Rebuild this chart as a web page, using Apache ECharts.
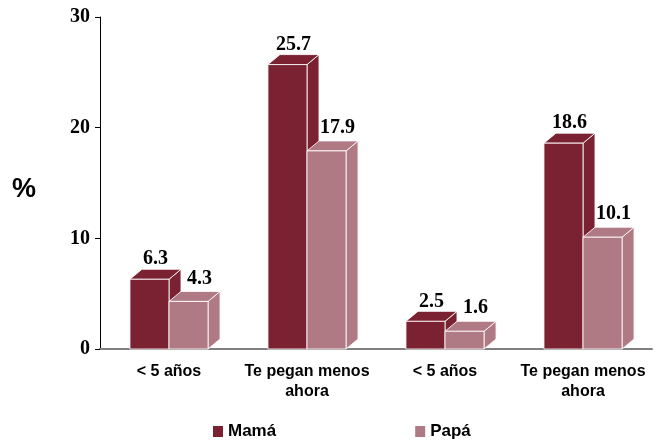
<!DOCTYPE html>
<html>
<head>
<meta charset="utf-8">
<script src="https://cdn.jsdelivr.net/npm/echarts@6/dist/echarts.min.js"></script>
<style>
  html, body { margin: 0; padding: 0; background: #fff; }
  #chart { width: 660px; height: 441px; }
</style>
</head>
<body>
<div id="chart"></div>
<script>
// categorías del eje x
var categorias = ['< 5 años', 'Te pegan menos\nahora', '< 5 años', 'Te pegan menos\nahora'];
// valores (%)
var mama = [6.3, 25.7, 2.5, 18.6];
var papa = [4.3, 17.9, 1.6, 10.1];
var yTicks = [0, 10, 20, 30];

var colorMama = '#7b2232';
var colorPapa = '#b07a84';

// profundidad del efecto 3D
var DX = 12, DY = 10;

// dibuja una barra "3D": frente, tapa y lateral + etiqueta
function barra3D(offsetSide, color, labelDx, labelDy) {
    return function (params, api) {
        var idx = api.value(0);
        var val = api.value(1);
        var top = api.coord([idx, val]);
        var base = api.coord([idx, 0]);
        var catW = api.size([1, 0])[0];
        var w = catW * 0.283;
        var x0 = offsetSide < 0 ? top[0] - w : top[0];
        var x1 = x0 + w;
        var y = top[1], yb = base[1];
        var borde = { stroke: 'rgba(255,255,255,0.85)', lineWidth: 1 };
        return {
            type: 'group',
            children: [
                {
                    type: 'polygon',
                    shape: { points: [[x1, y], [x1 + DX, y - DY], [x1 + DX, yb - DY], [x1, yb]] },
                    style: Object.assign({ fill: color }, borde)
                },
                {
                    type: 'polygon',
                    shape: { points: [[x0, y], [x1, y], [x1 + DX, y - DY], [x0 + DX, y - DY]] },
                    style: Object.assign({ fill: color }, borde)
                },
                {
                    type: 'rect',
                    shape: { x: x0, y: y, width: w, height: yb - y },
                    style: Object.assign({ fill: color }, borde)
                },
                {
                    type: 'text',
                    style: {
                        text: val.toFixed(1),
                        x: (x0 + x1) / 2 + DX / 2 + labelDx,
                        y: y - DY + labelDy,
                        align: 'center',
                        verticalAlign: 'bottom',
                        font: 'bold 20px "Liberation Serif"',
                        fill: '#000'
                    }
                }
            ]
        };
    };
}

var chart = echarts.init(document.getElementById('chart'));

var option = {
    animation: false,
    backgroundColor: '#fff',
    grid: { left: 100, right: 8, top: 17, bottom: 92 },
    graphic: [
        {
            type: 'text',
            left: 12,
            top: 176,
            style: { text: '%', font: 'bold 27px "Liberation Sans"', fill: '#000' }
        }
    ],
    legend: {
        data: ['Mamá', 'Papá'],
        left: 213,
        top: 423,
        padding: 0,
        icon: 'rect',
        itemWidth: 10,
        itemHeight: 11,
        itemGap: 139,
        textStyle: { fontFamily: 'Liberation Sans', fontWeight: 'bold', fontSize: 17, color: '#000' }
    },
    xAxis: {
        type: 'category',
        data: categorias,
        axisLine: { lineStyle: { color: '#808080', width: 2 } },
        axisTick: { show: false },
        axisLabel: {
            interval: 0,
            margin: 13,
            fontFamily: 'Liberation Sans',
            fontWeight: 'bold',
            fontSize: 16,
            lineHeight: 20,
            color: '#000'
        }
    },
    yAxis: {
        type: 'value',
        min: yTicks[0],
        max: yTicks[yTicks.length - 1],
        interval: 10,
        splitLine: { show: false },
        axisLine: { show: true, lineStyle: { color: '#000', width: 1 } },
        axisTick: { show: true, length: 5, lineStyle: { color: '#000' } },
        axisLabel: {
            margin: 10,
            fontFamily: 'Liberation Serif',
            fontWeight: 'bold',
            fontSize: 20,
            color: '#000'
        }
    },
    series: [
        {
            name: 'Mamá',
            type: 'custom',
            clip: false,
            itemStyle: { color: colorMama },
            renderItem: barra3D(-1, colorMama, 0, 0),
            encode: { x: 0, y: 1 },
            data: mama.map(function (v, i) { return [i, v]; })
        },
        {
            name: 'Papá',
            type: 'custom',
            clip: false,
            itemStyle: { color: colorPapa },
            renderItem: barra3D(1, colorPapa, 5, -3),
            encode: { x: 0, y: 1 },
            data: papa.map(function (v, i) { return [i, v]; })
        }
    ]
};

chart.setOption(option);
</script>
</body>
</html>
